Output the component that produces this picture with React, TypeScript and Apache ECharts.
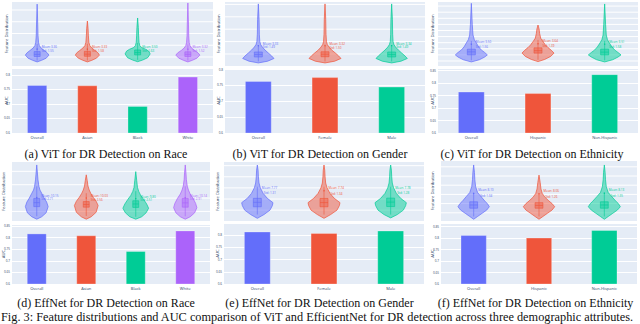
import React, { useEffect, useRef } from "react";
import * as echarts from "echarts";

const COLORS = ["#636EFA", "#EF553B", "#00CC96", "#AB63FA"];

// ---- categories
const RACE = ["Overall", "Asian", "Black", "White"];
const GENDER = ["Overall", "Female", "Male"];
const ETHNICITY = ["Overall", "Hispanic", "Non-Hispanic"];

// ---- AUC values (bar charts)
const AUC_VIT_RACE = [0.765, 0.764, 0.693, 0.794];
const AUC_VIT_GENDER = [0.764, 0.776, 0.746];
const AUC_VIT_ETH = [0.766, 0.76, 0.836];
const AUC_EFF_RACE = [0.818, 0.81, 0.742, 0.831];
const AUC_EFF_GENDER = [0.814, 0.808, 0.818];
const AUC_EFF_ETH = [0.813, 0.802, 0.835];

// ---- violin profiles: [feature value, half width (category units)]
const VIT_RACE_PROFILES = [
  [[-2.1, 0], [-1.4, 0.09], [-0.5, 0.18], [0.8, 0.235], [1.8, 0.2], [2.8, 0.14], [3.8, 0.08], [4.8, 0.045], [6.2, 0.028], [9, 0.018], [14, 0.012], [22.5, 0]],
  [[-2.1, 0], [-1.4, 0.09], [-0.5, 0.18], [0.8, 0.24], [1.8, 0.21], [2.8, 0.15], [3.8, 0.09], [4.8, 0.05], [6.2, 0.03], [9, 0.02], [12, 0.014], [15.3, 0]],
  [[-2.0, 0], [-1.3, 0.1], [-0.3, 0.2], [1.3, 0.25], [2.5, 0.22], [3.3, 0.16], [4, 0.08], [4.8, 0.045], [6.2, 0.028], [9, 0.02], [12.5, 0.014], [16.6, 0]],
  [[-2.1, 0], [-1.4, 0.09], [-0.5, 0.18], [0.8, 0.24], [1.8, 0.2], [2.8, 0.13], [3.8, 0.075], [4.8, 0.042], [6.2, 0.026], [9, 0.017], [14, 0.012], [23, 0]],
];
const VIT_RACE_BOX = [[-1.5, 0.2, 1.1, 2.3, 5.5], [-1.5, 0.3, 1.2, 2.4, 5.6], [-1.2, 0.9, 1.9, 3.0, 6.0], [-1.5, 0.2, 1.1, 2.2, 5.3]];
const VIT_RACE_MEAN = [3.36, 3.33, 3.5, 3.32];
const VIT_RACE_STD = [1.55, 1.58, 1.63, 1.52];
const VIT_RACE_GRID = [0, 5, 10, 15, 20];

const VIT_GENDER_PROFILES = [
  [[-3.6, 0], [-2.9, 0.14], [-1.8, 0.235], [-0.8, 0.2], [0.4, 0.15], [1.6, 0.1], [2.8, 0.06], [3.8, 0.035], [5, 0.022], [8, 0.015], [14, 0.011], [20.2, 0]],
  [[-3.6, 0], [-2.9, 0.145], [-1.8, 0.24], [-0.8, 0.205], [0.4, 0.155], [1.6, 0.1], [2.8, 0.06], [3.8, 0.035], [5, 0.022], [8, 0.015], [14, 0.011], [20.2, 0]],
  [[-3.6, 0], [-2.9, 0.14], [-1.8, 0.235], [-0.8, 0.2], [0.4, 0.15], [1.6, 0.1], [2.8, 0.058], [3.8, 0.034], [5, 0.021], [8, 0.015], [14, 0.011], [20.2, 0]],
];
const VIT_GENDER_BOX = [[-3.0, -1.2, -0.2, 0.8, 3.6], [-3.0, -1.1, -0.1, 0.9, 3.8], [-3.0, -1.2, -0.2, 0.8, 3.6]];
const VIT_GENDER_MEAN = [3.33, 3.32, 3.34];
const VIT_GENDER_STD = [1.49, 1.5, 1.49];
const VIT_GENDER_GRID = [0, 5, 10, 15, 20];

const VIT_ETH_PROFILES = [
  [[-2.3, 0], [-1.6, 0.12], [-0.7, 0.2], [0, 0.24], [0.8, 0.2], [1.6, 0.15], [2.6, 0.11], [3.9, 0.075], [5, 0.045], [6.5, 0.025], [10, 0.014], [16.9, 0]],
  [[-2.2, 0], [-1.5, 0.1], [-0.5, 0.19], [0.6, 0.24], [1.5, 0.2], [2.4, 0.15], [3.3, 0.11], [4.5, 0.07], [5.5, 0.04], [7, 0.025], [8.5, 0.016], [9.8, 0]],
  [[-2.3, 0], [-1.6, 0.12], [-0.7, 0.2], [0, 0.245], [0.8, 0.2], [1.6, 0.15], [2.6, 0.11], [3.9, 0.07], [5, 0.042], [6.5, 0.024], [10, 0.014], [16.7, 0]],
];
const VIT_ETH_BOX = [[-1.8, 0, 1, 1.9, 4.6], [-1.6, 0.6, 1.4, 2.3, 4.9], [-1.8, 0, 0.9, 1.9, 4.6]];
const VIT_ETH_MEAN = [3.5, 3.64, 3.51];
const VIT_ETH_STD = [1.56, 1.39, 1.58];
const VIT_ETH_GRID = [-2, 0, 2, 4, 6, 8, 10, 12, 14, 16];

const EFF_RACE_PROFILES = [
  [[2.1, 0], [3, 0.1], [4.5, 0.19], [6.8, 0.23], [8.5, 0.2], [10, 0.15], [11.8, 0.1], [13, 0.065], [14.3, 0.045], [16.8, 0.025], [19, 0.015], [22.4, 0]],
  [[2.1, 0], [3, 0.1], [4.7, 0.2], [7.2, 0.24], [8.8, 0.2], [10.3, 0.14], [11.8, 0.09], [13, 0.06], [14.5, 0.035], [16.5, 0.02], [18.7, 0]],
  [[2.1, 0], [3, 0.12], [4.5, 0.21], [6.2, 0.26], [7.8, 0.22], [9.5, 0.16], [11, 0.1], [12.5, 0.06], [14, 0.035], [16.5, 0.02], [19.9, 0]],
  [[2.1, 0], [3, 0.1], [4.5, 0.19], [6.4, 0.235], [8, 0.21], [9.8, 0.16], [11.5, 0.1], [13, 0.065], [14.5, 0.04], [17, 0.022], [19.5, 0.014], [22.4, 0]],
];
const EFF_RACE_BOX = [[3.2, 6.8, 8.3, 9.9, 14.4], [3.3, 6.6, 7.6, 8.7, 11.8], [3.0, 6.5, 7.8, 9.0, 12.6], [3.2, 6.6, 8.2, 9.9, 14.4]];
const EFF_RACE_MEAN = [10.15, 10.03, 9.8, 10.14];
const EFF_RACE_STD = [2.71, 2.56, 2.51, 2.91];
const EFF_RACE_GRID = [5, 10, 15, 20];

const EFF_GENDER_PROFILES = [
  [[5.26, 0], [5.6, 0.1], [6.0, 0.19], [6.4, 0.225], [6.67, 0.235], [7.06, 0.15], [7.5, 0.088], [8.0, 0.045], [8.44, 0.025], [9, 0.016], [9.6, 0.011], [10.06, 0]],
  [[5.26, 0], [5.6, 0.1], [6.0, 0.195], [6.4, 0.23], [6.67, 0.24], [7.06, 0.155], [7.5, 0.09], [8.0, 0.046], [8.44, 0.025], [9, 0.016], [9.6, 0.011], [10.06, 0]],
  [[5.3, 0], [5.6, 0.1], [6.0, 0.19], [6.4, 0.225], [6.67, 0.235], [7.06, 0.15], [7.5, 0.086], [8.0, 0.044], [8.44, 0.024], [9, 0.016], [9.6, 0.011], [10.06, 0]],
];
const EFF_GENDER_BOX = [[5.6, 6.3, 6.7, 7.06, 8.1], [5.6, 6.3, 6.68, 7.05, 8.1], [5.6, 6.32, 6.72, 7.08, 8.1]];
const EFF_GENDER_MEAN = [7.77, 7.74, 7.78];
const EFF_GENDER_STD = [1.31, 1.34, 1.28];
const EFF_GENDER_GRID = [6, 7, 8, 9, 10];

const EFF_ETH_PROFILES = [
  [[5.3, 0], [5.6, 0.06], [5.95, 0.13], [6.3, 0.2], [6.66, 0.24], [7.0, 0.21], [7.2, 0.18], [7.75, 0.115], [8.2, 0.06], [8.84, 0.03], [9.6, 0.018], [10.4, 0.012], [11.2, 0]],
  [[5.3, 0], [5.6, 0.06], [5.95, 0.13], [6.3, 0.2], [6.66, 0.24], [7.0, 0.2], [7.3, 0.15], [7.7, 0.09], [8.1, 0.05], [8.6, 0.03], [9.3, 0.018], [10.1, 0]],
  [[5.3, 0], [5.6, 0.06], [5.95, 0.13], [6.3, 0.2], [6.66, 0.245], [7.0, 0.215], [7.2, 0.185], [7.75, 0.115], [8.2, 0.06], [8.84, 0.03], [9.6, 0.018], [10.4, 0.012], [11.2, 0]],
];
const EFF_ETH_BOX = [[5.6, 6.5, 6.85, 7.2, 8.2], [5.6, 6.5, 6.8, 7.1, 8.0], [5.6, 6.5, 6.85, 7.2, 8.2]];
const EFF_ETH_MEAN = [8.1, 8.06, 8.13];
const EFF_ETH_STD = [1.34, 1.26, 1.35];
const EFF_ETH_GRID = [6, 7, 8, 9, 10, 11];

const CAPTIONS = [
  "(a) ViT for DR Detection on Race",
  "(b) ViT for DR Detection on Gender",
  "(c) ViT for DR Detection on Ethnicity",
  "(d) EffNet for DR Detection on Race",
  "(e) EffNet for DR Detection on Gender",
  "(f) EffNet for DR Detection on Ethnicity",
];
const FIG_TEXT =
  "Fig. 3: Feature distributions and AUC comparison of ViT and EfficientNet for DR detection across three demographic attributes.";

type Panel = {
  cats: string[];
  auc: number[];
  aucMax: number;
  prof: number[][][];
  box: number[][];
  mean: number[];
  std: number[];
  grid: number[];
  vMin: number;
  vMax: number;
  left: number;
  width: number;
  vTop: number;
  vH: number;
  bTop: number;
  bH: number;
  capX: number;
  capY: number;
  gap: number;
  stdShift: number;
  labX: number;
};

const PANELS: Panel[] = [
  { cats: RACE, auc: AUC_VIT_RACE, aucMax: 0.824, prof: VIT_RACE_PROFILES, box: VIT_RACE_BOX, mean: VIT_RACE_MEAN, std: VIT_RACE_STD, grid: VIT_RACE_GRID, vMin: -3.83, vMax: 23.4, left: 12, width: 201, vTop: 2, vH: 64, bTop: 68, bH: 65, capX: 106, capY: 153.5, gap: 4, stdShift: 0, labX: 6.3 },
  { cats: GENDER, auc: AUC_VIT_GENDER, aucMax: 0.805, prof: VIT_GENDER_PROFILES, box: VIT_GENDER_BOX, mean: VIT_GENDER_MEAN, std: VIT_GENDER_STD, grid: VIT_GENDER_GRID, vMin: -4.84, vMax: 20.97, left: 225, width: 200, vTop: 2, vH: 64, bTop: 68, bH: 65, capX: 320, capY: 153.5, gap: 3.5, stdShift: 0, labX: 218.3 },
  { cats: ETHNICITY, auc: AUC_VIT_ETH, aucMax: 0.861, prof: VIT_ETH_PROFILES, box: VIT_ETH_BOX, mean: VIT_ETH_MEAN, std: VIT_ETH_STD, grid: VIT_ETH_GRID, vMin: -3.64, vMax: 17.34, left: 438, width: 200, vTop: 2, vH: 64, bTop: 68, bH: 65, capX: 532, capY: 153.5, gap: 5, stdShift: 0, labX: 432 },
  { cats: RACE, auc: AUC_EFF_RACE, aucMax: 0.859, prof: EFF_RACE_PROFILES, box: EFF_RACE_BOX, mean: EFF_RACE_MEAN, std: EFF_RACE_STD, grid: EFF_RACE_GRID, vMin: 1.42, vMax: 23.5, left: 12, width: 198, vTop: 162, vH: 59, bTop: 224, bH: 60, capX: 106, capY: 302.5, gap: 3.6, stdShift: 0, labX: 3 },
  { cats: GENDER, auc: AUC_EFF_GENDER, aucMax: 0.849, prof: EFF_GENDER_PROFILES, box: EFF_GENDER_BOX, mean: EFF_GENDER_MEAN, std: EFF_GENDER_STD, grid: EFF_GENDER_GRID, vMin: 5.02, vMax: 10.33, left: 224, width: 200, vTop: 162, vH: 59, bTop: 223, bH: 61, capX: 319.5, capY: 302.5, gap: 5.6, stdShift: 2, labX: 217.5 },
  { cats: ETHNICITY, auc: AUC_EFF_ETH, aucMax: 0.866, prof: EFF_ETH_PROFILES, box: EFF_ETH_BOX, mean: EFF_ETH_MEAN, std: EFF_ETH_STD, grid: EFF_ETH_GRID, vMin: 5.11, vMax: 11.63, left: 441, width: 196, vTop: 161, vH: 60, bTop: 223, bH: 61, capX: 535.5, capY: 302.5, gap: 6, stdShift: 2, labX: 432.3 },
];

const FONT = "'Open Sans', 'DejaVu Sans', sans-serif";
const SERIF = "'Liberation Serif', 'DejaVu Serif', serif";
const TXT = "#2a3f5f";

function rgba(hex: string, a: number) {
  const n = parseInt(hex.slice(1), 16);
  return `rgba(${(n >> 16) & 255},${(n >> 8) & 255},${n & 255},${a})`;
}

function buildOption() {
  const grid: any[] = [];
  const xAxis: any[] = [];
  const yAxis: any[] = [];
  const series: any[] = [];
  const graphics: any[] = [];

  PANELS.forEach((p, k) => {
    const n = p.cats.length;
    const gv = 2 * k;
    const gb = 2 * k + 1;
    grid.push({ left: p.left, top: p.vTop, width: p.width, height: p.vH, show: true, backgroundColor: "#E5ECF6", borderWidth: 0 });
    grid.push({ left: p.left, top: p.bTop, width: p.width, height: p.bH, show: true, backgroundColor: "#E5ECF6", borderWidth: 0 });

    xAxis.push({ type: "value", gridIndex: gv, min: -0.5, max: n - 0.5, show: false });
    yAxis.push({ type: "value", gridIndex: gv, min: p.vMin, max: p.vMax, show: false });
    xAxis.push({
      type: "category", gridIndex: gb, data: p.cats,
      axisLine: { show: false }, axisTick: { show: false }, splitLine: { show: false },
      axisLabel: { fontSize: 4, margin: 2, color: TXT, fontFamily: FONT, interval: 0 },
    });
    yAxis.push({
      type: "value", gridIndex: gb, min: 0.6, max: p.aucMax, interval: 0.05,
      axisLine: { show: false }, axisTick: { show: false },
      splitLine: { show: true, lineStyle: { color: "#ffffff", width: 1 } },
      axisLabel: { fontSize: 3, margin: 2, color: TXT, fontFamily: FONT, showMaxLabel: false, showMinLabel: true },
    });

    // violin gridlines
    series.push({
      type: "custom", xAxisIndex: gv, yAxisIndex: gv, z: 1, silent: true,
      data: p.grid.map((g) => [0, g]),
      renderItem: (params: any, api: any) => {
        const g = p.grid[params.dataIndex];
        const a = api.coord([-0.5, g]);
        const b = api.coord([n - 0.5, g]);
        return { type: "line", shape: { x1: a[0], y1: a[1], x2: b[0], y2: b[1] }, style: { stroke: "#ffffff", lineWidth: 1 } };
      },
    });

    // violins
    series.push({
      type: "custom", xAxisIndex: gv, yAxisIndex: gv, z: 2, silent: true,
      data: p.mean.map((m, i) => [i, m]),
      renderItem: (params: any, api: any) => {
        const i = params.dataIndex;
        const col = COLORS[i];
        const prof = p.prof[i];
        const right = prof.map(([y, w]) => api.coord([i + w, y]));
        const left = prof.slice().reverse().map(([y, w]) => api.coord([i - w, y]));
        const pts = right.concat(left);
        const [lo, q1, med, q3, hi] = p.box[i];
        const bw = 0.06;
        const a = api.coord([i - bw, q3]);
        const b = api.coord([i + bw, q1]);
        const c = api.coord([i, lo]);
        const d = api.coord([i, hi]);
        const m1 = api.coord([i - bw, med]);
        const m2 = api.coord([i + bw, med]);
        const mc = api.coord([i, p.mean[i]]);
        return {
          type: "group",
          children: [
            { type: "polygon", shape: { points: pts }, style: { fill: rgba(col, 0.5), stroke: col, lineWidth: 0.7 } },
            { type: "line", shape: { x1: c[0], y1: c[1], x2: d[0], y2: d[1] }, style: { stroke: col, lineWidth: 0.6 } },
            { type: "rect", shape: { x: a[0], y: a[1], width: b[0] - a[0], height: b[1] - a[1] }, style: { fill: rgba(col, 0.45), stroke: col, lineWidth: 0.6 } },
            { type: "line", shape: { x1: m1[0], y1: m1[1], x2: m2[0], y2: m2[1] }, style: { stroke: col, lineWidth: 0.6 } },
            { type: "circle", shape: { cx: mc[0], cy: mc[1], r: 0.7 }, style: { fill: col } },
            {
              type: "text", x: mc[0] + 4.5, y: mc[1] - p.gap / 2,
              style: { text: `Mean: ${p.mean[i].toFixed(2)}`, fill: col, fontSize: 3, fontFamily: FONT, align: "left", verticalAlign: "middle" },
            },
            {
              type: "text", x: mc[0] + 4.5 + p.stdShift, y: mc[1] + p.gap / 2,
              style: { text: `Std: ${p.std[i].toFixed(2)}`, fill: col, fontSize: 3, fontFamily: FONT, align: "left", verticalAlign: "middle" },
            },
          ],
        };
      },
    });

    // bars
    series.push({
      type: "bar", xAxisIndex: gb, yAxisIndex: gb, barWidth: "40%", z: 3,
      data: p.auc.map((v, i) => ({ value: v, itemStyle: { color: COLORS[i], borderColor: rgba("#FFFFFF", 0.35), borderWidth: 0.8 } })),
    });

    // axis titles and captions
    graphics.push({
      type: "text", x: p.labX, y: p.vTop + p.vH / 2, rotation: Math.PI / 2,
      style: { text: "Feature Distribution", fontSize: 4.2, fontFamily: FONT, fill: TXT, align: "center", verticalAlign: "middle" },
    });
    graphics.push({
      type: "text", x: p.labX, y: p.bTop + p.bH / 2, rotation: Math.PI / 2,
      style: { text: "AUC", fontSize: 4.2, fontFamily: FONT, fill: TXT, align: "center", verticalAlign: "middle" },
    });
    graphics.push({
      type: "text", x: p.capX, y: p.capY,
      style: { text: CAPTIONS[k], fontSize: 12, fontFamily: SERIF, fill: "#111", align: "center", verticalAlign: "middle" },
    });
  });

  graphics.push({
    type: "text", x: 1, y: 317,
    style: { text: FIG_TEXT, fontSize: 12.3, fontFamily: SERIF, fill: "#111", align: "left", verticalAlign: "middle" },
  });

  return { animation: false, backgroundColor: "#ffffff", grid, xAxis, yAxis, series, graphic: { elements: graphics } };
}

export default function App() {
  const ref = useRef<HTMLDivElement>(null);
  useEffect(() => {
    if (!ref.current) return;
    const chart = echarts.init(ref.current, undefined, { renderer: "svg" });
    chart.setOption(buildOption() as any);
    return () => chart.dispose();
  }, []);
  return <div ref={ref} style={{ position: "fixed", left: 0, top: 0, width: 640, height: 324, background: "#fff" }} />;
}
